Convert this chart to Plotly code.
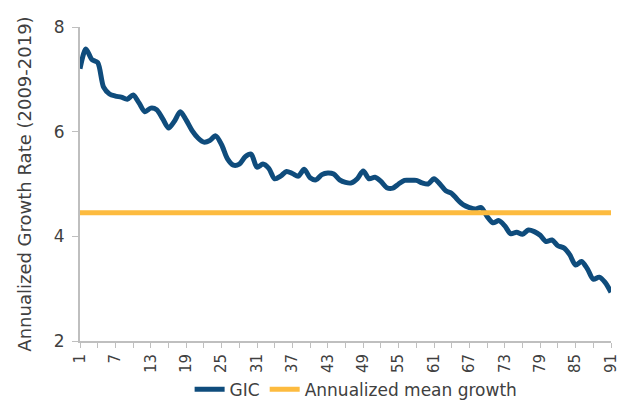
import plotly.graph_objects as go

x_idx = list(range(1, 92))
gic = [7.20, 7.58, 7.38, 7.32, 6.85, 6.72, 6.68, 6.66, 6.62, 6.70,
       6.55, 6.38, 6.45, 6.42, 6.25, 6.07, 6.20, 6.38, 6.22, 6.02,
       5.88, 5.80, 5.83, 5.92, 5.75, 5.48, 5.36, 5.38, 5.52, 5.57,
       5.32, 5.38, 5.30, 5.10, 5.15, 5.24, 5.20, 5.15, 5.28, 5.12,
       5.08, 5.18, 5.21, 5.19, 5.08, 5.03, 5.02, 5.10, 5.25, 5.10,
       5.13, 5.05, 4.93, 4.92, 5.00, 5.07, 5.07, 5.07, 5.02, 5.00,
       5.10, 5.00, 4.87, 4.82, 4.70, 4.60, 4.55, 4.52, 4.55, 4.38,
       4.26, 4.30, 4.20, 4.05, 4.08, 4.04, 4.12, 4.09, 4.02, 3.90,
       3.93, 3.82, 3.78, 3.65, 3.45, 3.52, 3.38, 3.18, 3.22, 3.12,
       2.93]
mean_growth = 4.45
mean_series = [mean_growth] * len(x_idx)

tick_vals = list(range(1, 92, 3))
tick_text = [str(v) if (v - 1) % 6 == 0 else "" for v in tick_vals]
y_ticks = [2, 4, 6, 8]

BLUE = "#0F4C7C"
GOLD = "#FDBB3F"
GREY = "#BFBFBF"
TXT = "#404040"
FONT = "DejaVu Sans"

fig = go.Figure()
fig.add_trace(go.Scatter(x=x_idx, y=gic, mode="lines", name="GIC",
                         line=dict(color=BLUE, width=5, shape="spline", smoothing=0.8)))
fig.add_trace(go.Scatter(x=x_idx, y=mean_series, mode="lines", name="Annualized mean growth",
                         line=dict(color=GOLD, width=5)))

# the page body has an 8px margin, so the figure is 8px smaller and margins shifted
fig.update_layout(
    width=618, height=392,
    margin=dict(l=72, r=15, t=19, b=59, autoexpand=False),
    paper_bgcolor="white", plot_bgcolor="white",
    font=dict(family=FONT, color=TXT, size=16),
    showlegend=True,
    legend=dict(orientation="h", x=0.52, xanchor="center", xref="paper",
                y=-0.155, yanchor="middle", yref="paper",
                bgcolor="rgba(0,0,0,0)",
                font=dict(size=17, color=TXT), itemwidth=30, tracegroupgap=0,
                itemsizing="constant"),
)
fig.update_xaxes(range=[1, 91], tickmode="array", tickvals=tick_vals, ticktext=tick_text,
                 tickangle=-90, ticks="outside", ticklen=5, tickcolor=GREY,
                 showline=True, linecolor=GREY, linewidth=2, showgrid=False, zeroline=False,
                 automargin=False, tickfont=dict(size=15, color=TXT))
fig.update_yaxes(range=[2, 8], tickvals=y_ticks, ticks="outside", ticklen=6, tickcolor=GREY,
                 showline=True, linecolor=GREY, linewidth=2, showgrid=False, zeroline=False,
                 automargin=False, ticklabelstandoff=4,
                 tickfont=dict(size=17, color=TXT),
                 title=dict(text="Annualized Growth Rate (2009-2019)", font=dict(size=18, color=TXT), standoff=17))

fig.write_html("out.html")
